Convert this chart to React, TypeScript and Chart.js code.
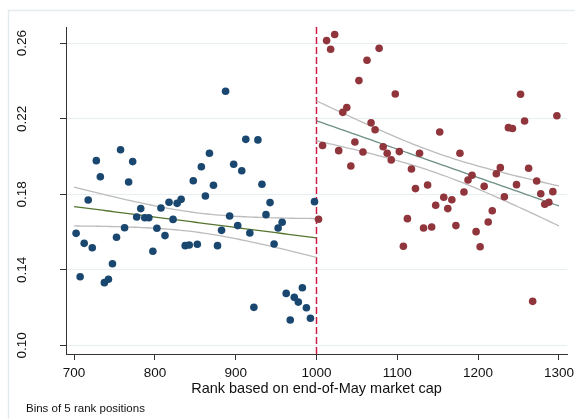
import React, { useEffect, useRef } from "react";
import { Chart, registerables } from "chart.js";

Chart.register(...registerables);

// Bins of 5 rank positions: below-cutoff (700-1000) and above-cutoff (1000-1300)
const BIN_WIDTH = 5;
const BELOW_START = 700;
const ABOVE_START = 1000;
const CUTOFF = 1000;
const CI_T = 1.55; // band multiplier

const belowShare = [
  0.1593, 0.1363, 0.154, 0.177, 0.1517, 0.1978, 0.1893, 0.1332, 0.135, 0.1432,
  0.1572, 0.2036, 0.1623, 0.1865, 0.1973, 0.168, 0.1724, 0.1676, 0.1676, 0.1498,
  0.162, 0.1727, 0.1581, 0.1758, 0.1667, 0.1752, 0.1773, 0.1528, 0.1531, 0.1872,
  0.1535, 0.1946, 0.1791, 0.2017, 0.1848, 0.1528, 0.1609, 0.2346, 0.1685, 0.1959,
  0.1634, 0.1925, 0.2091, 0.1595, 0.1201, 0.2088, 0.1853, 0.1692, 0.1756, 0.1537,
  0.1621, 0.1652, 0.1275, 0.1134, 0.1254, 0.1229, 0.1305, 0.1199, 0.1143, 0.1761,
];

const aboveShare = [
  0.1668, 0.2058, 0.2614, 0.2568, 0.2646, 0.2031, 0.2234, 0.2259, 0.195, 0.2077,
  0.2402, 0.2024, 0.251, 0.2179, 0.2142, 0.2573, 0.2052, 0.2017, 0.1982, 0.2331,
  0.2026, 0.1525, 0.1671, 0.1934, 0.183, 0.2017, 0.1621, 0.1849, 0.1627, 0.1742,
  0.213, 0.1784, 0.1724, 0.1771, 0.1634, 0.2017, 0.1812, 0.1876, 0.1901, 0.1602,
  0.1522, 0.1842, 0.1653, 0.1713, 0.1909, 0.1941, 0.1787, 0.2153, 0.2148, 0.1851,
  0.233, 0.2188, 0.1938, 0.1233, 0.187, 0.1803, 0.1747, 0.1758, 0.1814, 0.2216,
];

const xTicks = [700, 800, 900, 1000, 1100, 1200, 1300];
const yTicks = [0.1, 0.14, 0.18, 0.22, 0.26];
const yTickLabels = ["0.10", "0.14", "0.18", "0.22", "0.26"];
const xTitle = "Rank based on end-of-May market cap";
const note = "Bins of 5 rank positions";

const binCenters = (start: number, n: number) =>
  Array.from({ length: n }, (_, i) => start + BIN_WIDTH * (i + 0.5));

const belowX = binCenters(BELOW_START, belowShare.length);
const aboveX = binCenters(ABOVE_START, aboveShare.length);

// OLS linear fit with a confidence band of the mean prediction
function lfitci(xs: number[], ys: number[], from: number, to: number) {
  const n = xs.length;
  const mx = xs.reduce((a, b) => a + b, 0) / n;
  const my = ys.reduce((a, b) => a + b, 0) / n;
  let sxx = 0, sxy = 0;
  for (let i = 0; i < n; i++) {
    sxx += (xs[i] - mx) ** 2;
    sxy += (xs[i] - mx) * (ys[i] - my);
  }
  const b = sxy / sxx;
  const a = my - b * mx;
  let sse = 0;
  for (let i = 0; i < n; i++) sse += (ys[i] - a - b * xs[i]) ** 2;
  const s = Math.sqrt(sse / (n - 2));
  const grid: number[] = [];
  for (let x = from; x <= to + 1e-9; x += BIN_WIDTH) grid.push(x);
  const fit = grid.map((x) => ({ x, y: a + b * x }));
  const hw = grid.map((x) => CI_T * s * Math.sqrt(1 / n + (x - mx) ** 2 / sxx));
  const lo = grid.map((x, i) => ({ x, y: a + b * x - hw[i] }));
  const hi = grid.map((x, i) => ({ x, y: a + b * x + hw[i] }));
  return { fit, lo, hi };
}

const NAVY = "#1a476f";
const MAROON = "#90353b";
const FOREST = "#55752f";
const TEAL = "#6e8e84";
const CI_GRAY = "#bcbcbc";
const FONT = '"Liberation Sans", Arial, sans-serif';

export default function App() {
  const ref = useRef<HTMLCanvasElement | null>(null);

  useEffect(() => {
    if (!ref.current) return;
    const below = lfitci(belowX, belowShare, BELOW_START, CUTOFF);
    const above = lfitci(aboveX, aboveShare, ABOVE_START, ABOVE_START + 300);

    const lineDs = (data: { x: number; y: number }[], color: string) => ({
      type: "line" as const,
      data,
      borderColor: color,
      borderWidth: 1.3,
      pointRadius: 0,
      fill: false,
      tension: 0,
      order: 2,
    });

    const decor = {
      id: "decor",
      beforeDatasetsDraw(chart: any) {
        const { ctx, chartArea, scales } = chart;
        const x = scales.x.getPixelForValue(CUTOFF);
        ctx.save();
        ctx.strokeStyle = "#d01c45";
        ctx.lineWidth = 1.5;
        ctx.setLineDash([7, 3]);
        ctx.beginPath();
        ctx.moveTo(x, chartArea.top);
        ctx.lineTo(x, chartArea.bottom);
        ctx.stroke();
        ctx.restore();
      },
      afterDraw(chart: any) {
        const { ctx, chartArea, scales } = chart;
        ctx.save();
        ctx.strokeStyle = "#e3ebee";
        ctx.lineWidth = 1.5;
        ctx.strokeRect(8.5, 10.5, 600, 450);
        ctx.fillStyle = "#111";
        ctx.font = `13.5px ${FONT}`;
        ctx.textAlign = "center";
        ctx.textBaseline = "middle";
        xTicks.forEach((v) => {
          ctx.fillText(String(v), scales.x.getPixelForValue(v), chartArea.bottom + 19);
        });
        yTicks.forEach((v, i) => {
          const y = scales.y.getPixelForValue(v);
          ctx.save();
          ctx.translate(22, y);
          ctx.rotate(-Math.PI / 2);
          ctx.fillText(yTickLabels[i], 0, 0);
          ctx.restore();
        });
        ctx.font = `14.5px ${FONT}`;
        ctx.fillText(xTitle, (chartArea.left + chartArea.right) / 2, chartArea.bottom + 35);
        ctx.font = `11.5px ${FONT}`;
        ctx.textAlign = "left";
        ctx.textBaseline = "alphabetic";
        ctx.fillText(note, 26, 412);
        ctx.restore();
      },
    };

    const chart = new Chart(ref.current, {
      type: "scatter",
      data: {
        datasets: [
          {
            type: "scatter",
            data: belowX.map((x, i) => ({ x, y: belowShare[i] })),
            backgroundColor: NAVY,
            borderColor: NAVY,
            pointRadius: 3.8,
            borderWidth: 0,
            order: 0,
          },
          {
            type: "scatter",
            data: aboveX.map((x, i) => ({ x, y: aboveShare[i] })),
            backgroundColor: MAROON,
            borderColor: MAROON,
            pointRadius: 3.8,
            borderWidth: 0,
            order: 0,
          },
          lineDs(below.hi, CI_GRAY),
          lineDs(below.lo, CI_GRAY),
          lineDs(below.fit, FOREST),
          lineDs(above.hi, CI_GRAY),
          lineDs(above.lo, CI_GRAY),
          lineDs(above.fit, TEAL),
        ] as any,
      },
      options: {
        animation: false,
        responsive: false,
        devicePixelRatio: 1,
        layout: { padding: { left: 60, top: 27, right: 8, bottom: 59 } },
        plugins: { legend: { display: false }, tooltip: { enabled: false } },
        scales: {
          x: {
            type: "linear",
            min: 690,
            max: 1310,
            afterBuildTicks: (s: any) => {
              s.ticks = xTicks.map((v) => ({ value: v }));
            },
            ticks: { display: false },
            grid: {
              drawOnChartArea: false,
              drawTicks: true,
              tickLength: 6,
              tickColor: "#333",
              lineWidth: 1,
            },
            border: { display: true, color: "#333", width: 1 },
          },
          y: {
            type: "linear",
            min: 0.0954,
            max: 0.2686,
            afterBuildTicks: (s: any) => {
              s.ticks = yTicks.map((v) => ({ value: v }));
            },
            ticks: { display: false },
            grid: {
              color: "#e6eef1",
              drawTicks: true,
              tickLength: 6,
              tickColor: "#333",
              lineWidth: 1,
            },
            border: { display: true, color: "#333", width: 1 },
          },
        },
      },
      plugins: [decor],
    } as any);
    return () => chart.destroy();
  }, []);

  return (
    <div style={{ position: "fixed", left: 0, top: 0, width: 575, height: 419, background: "#fff" }}>
      <canvas ref={ref} width={575} height={419} style={{ width: 575, height: 419, display: "block" }} />
    </div>
  );
}
